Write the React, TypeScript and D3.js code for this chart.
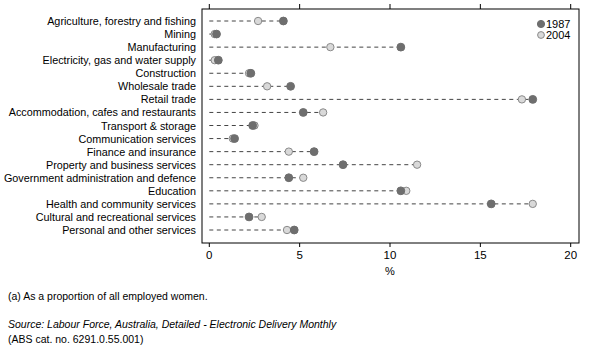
import React from "react";
import * as d3 from "d3";

// industries, top to bottom
const industries = [
  "Agriculture, forestry and fishing",
  "Mining",
  "Manufacturing",
  "Electricity, gas and water supply",
  "Construction",
  "Wholesale trade",
  "Retail trade",
  "Accommodation, cafes and restaurants",
  "Transport & storage",
  "Communication services",
  "Finance and insurance",
  "Property and business services",
  "Government administration and defence",
  "Education",
  "Health and community services",
  "Cultural and recreational services",
  "Personal and other services",
];

// % of all employed women
const values1987 = [4.1, 0.4, 10.6, 0.5, 2.3, 4.5, 17.9, 5.2, 2.4, 1.4, 5.8, 7.4, 4.4, 10.6, 15.6, 2.2, 4.7];
const values2004 = [2.7, 0.3, 6.7, 0.3, 2.2, 3.2, 17.3, 6.3, 2.5, 1.3, 4.4, 11.5, 5.2, 10.9, 17.9, 2.9, 4.3];

const xTicks = [0, 5, 10, 15, 20];

const W = 599;
const H = 350;
const FRAME = { left: 202, right: 579, top: 9, bottom: 243 };
const DARK = "#6e6e6e";
const LIGHT = "#d9d9d9";
const FONT = "'Liberation Sans', Arial, sans-serif";

const App = () => {
  const x = d3.scaleLinear().domain([0, 20]).range([209.3, 570.7]);
  const y = d3.scalePoint<string>().domain(industries).range([21, 230]);

  const rows = industries.map((name, i) => ({
    name,
    a: values1987[i],
    b: values2004[i],
  }));

  return (
    <svg width={W} height={H} style={{ position: "absolute", left: 0, top: 0, background: "#fff" }}>
      {/* frame */}
      <rect
        x={FRAME.left}
        y={FRAME.top}
        width={FRAME.right - FRAME.left}
        height={FRAME.bottom - FRAME.top}
        fill="none"
        stroke="#000"
        strokeWidth={1}
      />

      {/* ticks top and bottom */}
      {xTicks.map((t) => (
        <g key={t}>
          <line x1={x(t)} x2={x(t)} y1={FRAME.top - 5} y2={FRAME.top} stroke="#000" />
          <line x1={x(t)} x2={x(t)} y1={FRAME.bottom} y2={FRAME.bottom + 4} stroke="#000" />
          <text x={x(t)} y={259} textAnchor="middle" fontFamily={FONT} fontSize={11.5} fill="#000">
            {t}
          </text>
        </g>
      ))}
      <text x={(x(0) + x(20)) / 2} y={275} textAnchor="middle" fontFamily={FONT} fontSize={11}>
        %
      </text>

      {/* category labels */}
      {rows.map((d) => (
        <text
          key={d.name}
          x={196}
          y={(y(d.name) ?? 0) + 4}
          textAnchor="end"
          fontFamily={FONT}
          fontSize={10.8}
          fill="#000"
        >
          {d.name}
        </text>
      ))}

      {/* dashed leaders */}
      {rows.map((d) => (
        <line
          key={"l" + d.name}
          x1={x(0)}
          x2={x(Math.max(d.a, d.b))}
          y1={y(d.name)}
          y2={y(d.name)}
          stroke="#444"
          strokeWidth={1}
          strokeDasharray="4,3.5"
        />
      ))}

      {/* 2004 points */}
      {rows.map((d) => (
        <circle key={"b" + d.name} cx={x(d.b)} cy={y(d.name)} r={3.7} fill={LIGHT} stroke="#8a8a8a" strokeWidth={1} />
      ))}
      {/* 1987 points */}
      {rows.map((d) => (
        <circle key={"a" + d.name} cx={x(d.a)} cy={y(d.name)} r={3.9} fill={DARK} stroke={DARK} strokeWidth={1} />
      ))}

      {/* legend */}
      <circle cx={541} cy={24} r={3.6} fill={DARK} stroke={DARK} />
      <text x={546} y={28} fontFamily={FONT} fontSize={11}>1987</text>
      <circle cx={541} cy={35} r={3.4} fill={LIGHT} stroke="#8a8a8a" />
      <text x={546} y={39} fontFamily={FONT} fontSize={11}>2004</text>

      {/* notes */}
      <text x={8} y={300} fontFamily={FONT} fontSize={10.5}>
        (a) As a proportion of all employed women.
      </text>
      <text x={8} y={328} fontFamily={FONT} fontSize={10.5} fontStyle="italic">
        Source: Labour Force, Australia, Detailed -  Electronic Delivery Monthly
      </text>
      <text x={8} y={343} fontFamily={FONT} fontSize={10.5}>
        (ABS cat. no. 6291.0.55.001)
      </text>
    </svg>
  );
};

export default App;
